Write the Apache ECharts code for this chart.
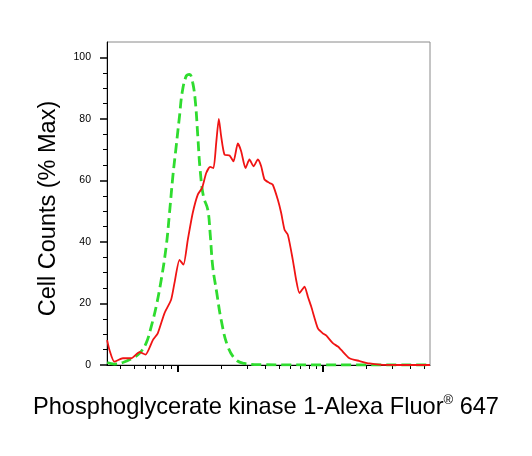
<!DOCTYPE html>
<html>
<head>
<meta charset="utf-8">
<script src="https://cdn.jsdelivr.net/npm/echarts@6/dist/echarts.min.js"></script>
<style>
  html, body { margin: 0; padding: 0; background: #fff; }
  #main { width: 532px; height: 456px; }
</style>
</head>
<body>
<div id="main"></div>
<script>
// x values are in log10 decades (10 -> 1, 100 -> 2)
var greenX = [0.513, 0.563, 0.621, 0.690, 0.736, 0.782, 0.817, 0.851, 0.886, 0.920, 0.943, 0.966, 0.989, 1.012, 1.030, 1.058, 1.081, 1.103, 1.122, 1.138, 1.154, 1.177, 1.207, 1.223, 1.241, 1.269, 1.299, 1.345, 1.403, 1.460, 1.563, 2.100, 2.739];
var greenY = [0.8, 0.3, 0.8, 2.3, 3.8, 7.1, 12.5, 19, 27.7, 38.5, 49.4, 61.3, 71.1, 80.9, 88.5, 93.9, 94.5, 91.8, 85.2, 74.4, 63.5, 54.8, 50.5, 42.9, 32, 23.4, 14.7, 6, 1.6, 0.5, 0.1, 0, 0];

var redX = [0.513, 0.529, 0.563, 0.621, 0.679, 0.736, 0.777, 0.828, 0.862, 0.908, 0.954, 0.977, 1.012, 1.039, 1.069, 1.103, 1.138, 1.168, 1.196, 1.223, 1.246, 1.265, 1.283, 1.299, 1.322, 1.357, 1.384, 1.414, 1.437, 1.467, 1.494, 1.522, 1.552, 1.575, 1.598, 1.632, 1.655, 1.690, 1.713, 1.736, 1.759, 1.793, 1.816, 1.839, 1.874, 1.897, 1.920, 1.966, 2.000, 2.023, 2.069, 2.104, 2.127, 2.184, 2.253, 2.322, 2.391, 2.529, 2.739];
var redY = [8.1, 4.9, 1.1, 2.2, 2.2, 4.2, 3.4, 8.1, 10.3, 16.8, 21.2, 26.6, 34.2, 32.6, 40.7, 49.4, 55.4, 57.6, 62.4, 64.4, 64, 72.2, 80, 74.4, 68.4, 68.1, 66.2, 72, 69.5, 64, 66.8, 64.6, 66.8, 64.6, 60.3, 59.2, 58.6, 53.7, 49.4, 44, 42.3, 34.2, 27.7, 23.4, 25.5, 22.2, 19, 11.9, 10.3, 9.6, 7.1, 6.0, 4.9, 2.2, 1.3, 0.5, 0.1, 0, 0];

var yMajorTicks = [0, 20, 40, 60, 80, 100];
var yMinorTicks = [5, 10, 15, 25, 30, 35, 45, 50, 55, 65, 70, 75, 85, 90, 95];
var xMajorTicks = [10, 100];
var xMinorTicks = [4, 5, 6, 7, 8, 9, 20, 30, 40, 50, 60, 70, 80, 90, 200, 300, 400, 500];

var xMin = 0.512, xMax = 2.739;

function pairs(xs, ys) {
    return xs.map(function (x, i) { return [x, ys[i]]; });
}
function logs(arr) {
    return arr.map(function (v) { return Math.log10(v); });
}

var myChart = echarts.init(document.getElementById('main'));

var option = {
    backgroundColor: '#fff',
    animation: false,
    title: {
        text: 'Phosphoglycerate kinase 1-Alexa Fluor{sup|®} 647',
        left: 'center',
        top: 389,
        textStyle: {
            fontFamily: 'Arial, "Liberation Sans"',
            fontSize: 23.6,
            fontWeight: 'normal',
            color: '#000',
            lineHeight: 26,
            rich: {
                sup: { fontSize: 13, verticalAlign: 'top', lineHeight: 26, fontFamily: 'Arial, "Liberation Sans"', color: '#000' }
            }
        }
    },
    grid: {
        left: 107, top: 42, width: 323, height: 323,
        show: true, borderColor: '#8a8a8a', borderWidth: 1, backgroundColor: 'transparent'
    },
    xAxis: [{
        type: 'value', min: xMin, max: xMax,
        splitLine: { show: false },
        axisLine: { lineStyle: { color: '#000', width: 1 } },
        axisTick: { customValues: logs(xMajorTicks), length: 7, lineStyle: { color: '#000', width: 2 } },
        axisLabel: { show: false }
    }, {
        type: 'value', min: xMin, max: xMax, position: 'bottom',
        splitLine: { show: false },
        axisLine: { show: false },
        axisTick: { customValues: logs(xMinorTicks), length: 4, lineStyle: { color: '#000', width: 1 } },
        axisLabel: { show: false }
    }],
    yAxis: [{
        type: 'value', min: 0, max: 105,
        name: 'Cell Counts (% Max)',
        nameLocation: 'middle',
        nameGap: 46,
        nameTextStyle: { fontFamily: 'Arial, "Liberation Sans"', fontSize: 23.5, color: '#000', padding: [0, 10, 0, 0] },
        splitLine: { show: false },
        axisLine: { lineStyle: { color: '#000', width: 1 } },
        axisTick: { customValues: yMajorTicks, length: 7, lineStyle: { color: '#000', width: 1.5 } },
        axisLabel: {
            customValues: yMajorTicks, margin: 16,
            fontFamily: 'Arial, "Liberation Sans"', fontSize: 10.5, color: '#000'
        }
    }, {
        type: 'value', min: 0, max: 105, position: 'left',
        splitLine: { show: false },
        axisLine: { show: false },
        axisTick: { customValues: yMinorTicks, length: 4, lineStyle: { color: '#000', width: 1 } },
        axisLabel: { show: false }
    }],
    series: [{
        name: 'isotype',
        type: 'line',
        xAxisIndex: 0, yAxisIndex: 0,
        data: pairs(greenX, greenY),
        smooth: 0.4,
        symbol: 'none',
        lineStyle: { color: '#2fdc2f', width: 2.8, type: [10, 5] },
        z: 3
    }, {
        name: 'PGK1',
        type: 'line',
        xAxisIndex: 0, yAxisIndex: 0,
        data: pairs(redX, redY),
        smooth: 0.2,
        symbol: 'none',
        lineStyle: { color: '#f01414', width: 1.8 },
        z: 4
    }]
};

myChart.setOption(option);
</script>
</body>
</html>
